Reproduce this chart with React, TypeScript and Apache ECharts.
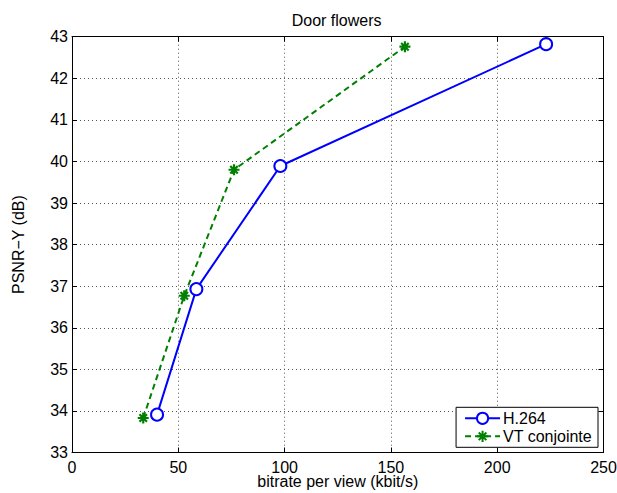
import React, { useEffect, useRef } from "react";
import * as echarts from "echarts";

const titleText = "Door flowers";
const xName = "bitrate per view (kbit/s)";
const yName = "PSNR−Y (dB)";
const seriesNames = ["H.264", "VT conjointe"];
const h264X = [40, 58.5, 98, 223];
const h264Y = [33.91, 36.93, 39.89, 42.82];
const vtX = [33.5, 52.8, 76.2, 156.6];
const vtY = [33.83, 36.77, 39.8, 42.76];

const FONT = "'Liberation Sans', Arial, Helvetica, sans-serif";
const asterisk =
  "path://M5 0 L5 10 M0 5 L10 5 M1.6 1.6 L8.4 8.4 M1.6 8.4 L8.4 1.6";

export default function App() {
  const ref = useRef<HTMLDivElement>(null);
  useEffect(() => {
    if (!ref.current) return;
    const chart = echarts.init(ref.current, null, { renderer: "svg" });
    const grid = {
      left: 72,
      right: 13.5,
      top: 36.7,
      bottom: 40.5,
      containLabel: false,
      outerBoundsMode: "none",
    };
    const gridLine = {
      show: true,
      lineStyle: { color: "#555", type: [1, 3] as any, width: 1 },
    };
    const axisLine = { show: true, onZero: false, lineStyle: { color: "#000", width: 1 } };
    const tick = { show: true, inside: true, length: 5, lineStyle: { color: "#000" } };
    chart.setOption({
      animation: false,
      backgroundColor: "#fff",
      title: {
        text: titleText,
        left: 291.7,
        top: 12.5,
        padding: 0,
        textStyle: { fontFamily: FONT, fontSize: 16, fontWeight: "normal", color: "#000" },
      },
      grid,
      legend: {
        data: seriesNames,
        orient: "vertical",
        right: 19,
        bottom: 45.7,
        backgroundColor: "#fff",
        borderColor: "#000",
        borderWidth: 1,
        borderRadius: 0,
        padding: [3, 6, 3, 8],
        itemGap: 2,
        itemWidth: 35,
        itemHeight: 14,
        textStyle: { fontFamily: FONT, fontSize: 16, color: "#000", padding: [0, 0, 0, -2] },
      },
      xAxis: [
        {
          type: "value",
          min: 0,
          max: 250,
          interval: 50,
          name: xName,
          nameLocation: "middle",
          nameGap: 22,
          nameMoveOverlap: false,
          nameTextStyle: {
            fontFamily: FONT,
            fontSize: 16,
            lineHeight: 14,
            color: "#000",
            verticalAlign: "top",
          },
          axisLine,
          axisTick: tick,
          axisLabel: { fontFamily: FONT, fontSize: 16, lineHeight: 12, color: "#000", margin: 9 },
          splitLine: gridLine,
        },
        {
          type: "value",
          position: "top",
          min: 0,
          max: 250,
          interval: 50,
          axisLine,
          axisTick: tick,
          axisLabel: { show: false },
          splitLine: { show: false },
        },
      ],
      yAxis: [
        {
          type: "value",
          min: 33,
          max: 43,
          interval: 1,
          name: yName,
          nameLocation: "middle",
          nameGap: 46,
          nameMoveOverlap: false,
          nameTextStyle: { fontFamily: FONT, fontSize: 16, color: "#000" },
          axisLine,
          axisTick: tick,
          axisLabel: { fontFamily: FONT, fontSize: 16, color: "#000", margin: 4 },
          splitLine: gridLine,
        },
        {
          type: "value",
          position: "right",
          min: 33,
          max: 43,
          interval: 1,
          axisLine,
          axisTick: tick,
          axisLabel: { show: false },
          splitLine: { show: false },
        },
      ],
      series: [
        {
          name: seriesNames[0],
          type: "line",
          xAxisIndex: 0,
          yAxisIndex: 0,
          data: h264X.map((x, i) => [x, h264Y[i]]),
          symbol: "emptyCircle",
          symbolSize: 12,
          showAllSymbol: true,
          lineStyle: { color: "#0000ff", width: 2 },
          itemStyle: { color: "#0000ff", borderColor: "#0000ff", borderWidth: 2 },
          emphasis: { disabled: true },
          z: 3,
        },
        {
          name: seriesNames[1],
          type: "line",
          xAxisIndex: 0,
          yAxisIndex: 0,
          data: vtX.map((x, i) => [x, vtY[i]]),
          symbol: asterisk,
          symbolSize: 11,
          showAllSymbol: true,
          lineStyle: { color: "#008000", width: 2, type: [6, 4] as any },
          itemStyle: { color: "#008000", borderColor: "#008000", borderWidth: 2.2 },
          emphasis: { disabled: true },
          z: 2,
        },
      ],
    });
    return () => chart.dispose();
  }, []);
  return (
    <div
      ref={ref}
      style={{ position: "absolute", left: 0, top: 0, width: 617, height: 493 }}
    />
  );
}
